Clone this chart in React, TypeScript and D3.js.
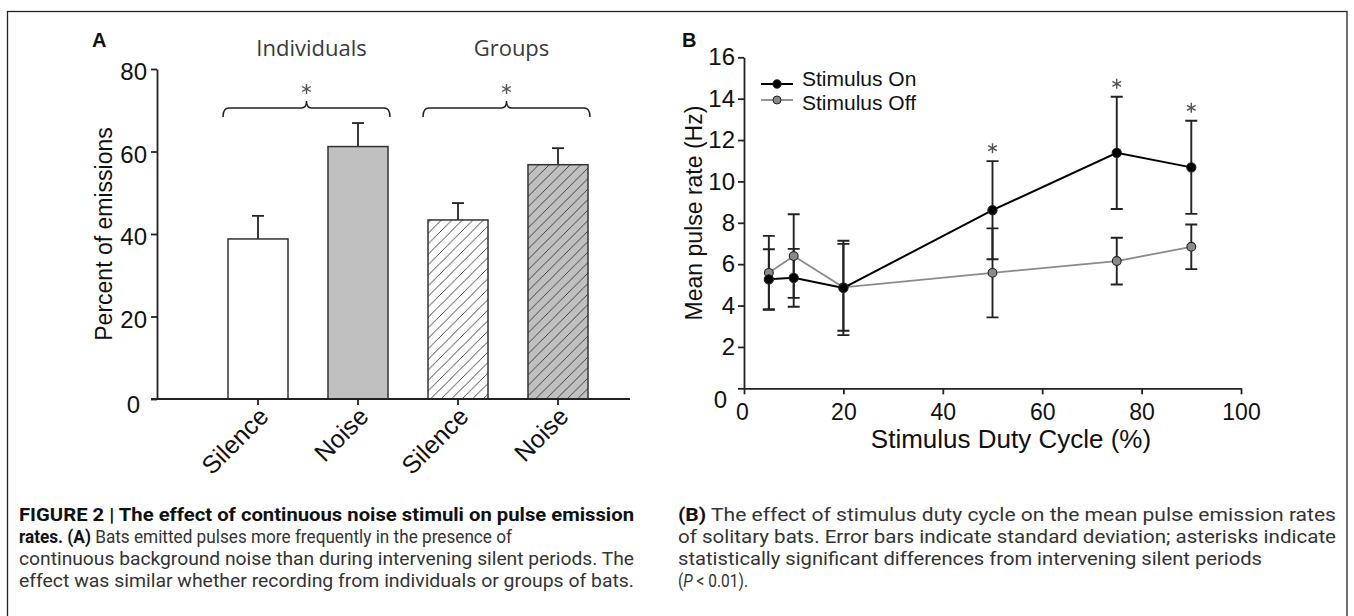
import React, { useEffect, useRef } from 'react';
import * as d3 from 'd3';

// ---------- Panel A data ----------
const groupLabels = ['Individuals', 'Groups'];
const barIds = ['ind-silence', 'ind-noise', 'grp-silence', 'grp-noise'];
const barLabels = ['Silence', 'Noise', 'Silence', 'Noise'];
const barValues = [38.8, 61.2, 43.4, 56.8];
const barErrors = [5.6, 5.7, 4.1, 4.0];
const percentTicks = [0, 20, 40, 60, 80];

// ---------- Panel B data ----------
const dutyCycles = [5, 10, 20, 50, 75, 90];
const onMeans = [5.27, 5.34, 4.85, 8.61, 11.38, 10.68];
const onSD = [1.45, 1.4, 2.28, 2.37, 2.71, 2.25];
const offMeans = [5.58, 6.39, 4.88, 5.58, 6.15, 6.84];
const offSD = [1.79, 2.02, 2.1, 2.15, 1.13, 1.08];
const significant = [false, false, false, true, true, true];
const rateTicks = [0, 2, 4, 6, 8, 10, 12, 14, 16];
const dutyTicks = [0, 20, 40, 60, 80, 100];
const seriesNames = ['Stimulus On', 'Stimulus Off'];

const W = 1354;
const H = 616;
const ARIAL = "'Liberation Sans', Arial, Helvetica, sans-serif";
const CAPFONT = "'Liberation Sans Narrow', 'Arial Narrow', Roboto, sans-serif";

export default function App() {
  const ref = useRef<SVGSVGElement>(null);

  useEffect(() => {
    const svg = d3.select(ref.current);
    svg.selectAll('*').remove();

    // patterns
    const defs = svg.append('defs');
    const mkHatch = (id: string, bg: string) => {
      const p = defs
        .append('pattern')
        .attr('id', id)
        .attr('patternUnits', 'userSpaceOnUse')
        .attr('width', 10.5)
        .attr('height', 10.5);
      p.append('rect').attr('width', 10.5).attr('height', 10.5).attr('fill', bg);
      p.append('path')
        .attr('d', 'M-1,1 L1,-1 M0,10.5 L10.5,0 M9.5,11.5 L11.5,9.5')
        .attr('stroke', '#333')
        .attr('stroke-width', 0.9);
    };
    mkHatch('hatchWhite', '#ffffff');
    mkHatch('hatchGray', '#c0c0c0');
    const barFill = ['#ffffff', '#c0c0c0', 'url(#hatchWhite)', 'url(#hatchGray)'];

    // frame
    svg
      .append('rect')
      .attr('x', 7.5)
      .attr('y', 11.5)
      .attr('width', 1339.5)
      .attr('height', 700)
      .attr('fill', 'none')
      .attr('stroke', '#222')
      .attr('stroke-width', 1.3);

    const drawAst = (g: any, cx: number, cy: number, r: number) => {
      const c = Math.cos(Math.PI / 6) * r;
      const s = Math.sin(Math.PI / 6) * r;
      g.append('path')
        .attr(
          'd',
          `M${cx},${cy - r}L${cx},${cy + r}M${cx - c},${cy - s}L${cx + c},${cy + s}M${cx - c},${cy + s}L${cx + c},${cy - s}`
        )
        .attr('stroke', '#555')
        .attr('stroke-width', 1.4)
        .attr('fill', 'none');
    };

    // ================= Panel A =================
    const gA = svg.append('g');
    const yA = d3.scaleLinear().domain([0, 80]).range([399, 69]);
    const xA = d3.scaleBand<string>().domain(barIds).range([208, 608]).paddingInner(0.4).paddingOuter(0.2);

    gA.append('text')
      .attr('x', 92)
      .attr('y', 47)
      .attr('font-family', ARIAL)
      .attr('font-weight', 'bold')
      .attr('font-size', 20)
      .attr('fill', '#111')
      .text('A');

    // y axis
    const yAxisA = gA
      .append('g')
      .attr('transform', 'translate(157,0)')
      .call(d3.axisLeft(yA).tickValues(percentTicks).tickSize(6).tickSizeOuter(0).tickPadding(4));
    yAxisA.select('.domain').attr('stroke', '#222').attr('stroke-width', 1.8);
    yAxisA.selectAll('.tick line').attr('stroke', '#222').attr('stroke-width', 1.8);
    yAxisA
      .selectAll('.tick text')
      .attr('font-family', ARIAL)
      .attr('font-size', 24)
      .attr('fill', '#111')
      .attr('dy', '0.45em');
    yAxisA
      .selectAll<SVGTextElement, number>('.tick text')
      .filter((d) => d === 0)
      .attr('x', -17)
      .attr('dy', '0.55em');

    gA.append('text')
      .attr('transform', 'translate(112,234) rotate(-90)')
      .attr('text-anchor', 'middle')
      .attr('font-family', ARIAL)
      .attr('font-size', 23)
      .attr('fill', '#111')
      .text('Percent of emissions');

    // bars
    barIds.forEach((id, i) => {
      const x0 = xA(id)!;
      const bw = xA.bandwidth();
      const cx = x0 + bw / 2;
      const top = yA(barValues[i]);
      const errTop = yA(barValues[i] + barErrors[i]);
      gA.append('line')
        .attr('x1', cx)
        .attr('x2', cx)
        .attr('y1', top)
        .attr('y2', errTop)
        .attr('stroke', '#222')
        .attr('stroke-width', 1.8);
      gA.append('line')
        .attr('x1', cx - 6)
        .attr('x2', cx + 6)
        .attr('y1', errTop)
        .attr('y2', errTop)
        .attr('stroke', '#222')
        .attr('stroke-width', 1.8);
      gA.append('rect')
        .attr('x', x0)
        .attr('y', top)
        .attr('width', bw)
        .attr('height', yA(0) - top)
        .attr('fill', barFill[i])
        .attr('stroke', '#333')
        .attr('stroke-width', 1.5);
    });

    // x axis
    gA.append('line')
      .attr('x1', 151)
      .attr('x2', 630)
      .attr('y1', yA(0))
      .attr('y2', yA(0))
      .attr('stroke', '#222')
      .attr('stroke-width', 1.8);
    barIds.forEach((id, i) => {
      const cx = xA(id)! + xA.bandwidth() / 2;
      gA.append('line')
        .attr('x1', cx)
        .attr('x2', cx)
        .attr('y1', yA(0))
        .attr('y2', yA(0) + 6)
        .attr('stroke', '#222')
        .attr('stroke-width', 1.8);
      gA.append('text')
        .attr('transform', `translate(${cx + 12},${yA(0) + 19}) rotate(-45)`)
        .attr('text-anchor', 'end')
        .attr('font-family', ARIAL)
        .attr('font-size', 25)
        .attr('fill', '#111')
        .text(barLabels[i]);
    });

    // group labels + braces
    groupLabels.forEach((lab, gi) => {
      const a = barIds[gi * 2];
      const b = barIds[gi * 2 + 1];
      const x1 = xA(a)! - 5;
      const x2 = xA(b)! + xA.bandwidth() + 2;
      const cx = (x1 + x2) / 2;
      const y = 108;
      gA.append('text')
        .attr('x', cx + 5)
        .attr('y', 56)
        .attr('text-anchor', 'middle')
        .attr('font-family', "'Open Sans', 'Noto Sans', sans-serif")
        .attr('font-size', 22)
        .attr('fill', '#3a3a3a')
        .text(lab);
      gA.append('path')
        .attr(
          'd',
          `M${x1},${y + 9}Q${x1},${y} ${x1 + 6},${y}L${cx - 5},${y}Q${cx},${y} ${cx},${y - 7}Q${cx},${y} ${cx + 5},${y}L${x2 - 6},${y}Q${x2},${y} ${x2},${y + 9}`
        )
        .attr('fill', 'none')
        .attr('stroke', '#222')
        .attr('stroke-width', 1.5);
      drawAst(gA, cx, 89, 5);
    });

    // ================= Panel B =================
    const gB = svg.append('g');
    const xB = d3.scaleLinear().domain([0, 100]).range([744, 1241]);
    const yB = d3.scaleLinear().domain([0, 16]).range([388.3, 57.3]);

    gB.append('text')
      .attr('x', 682)
      .attr('y', 47)
      .attr('font-family', ARIAL)
      .attr('font-weight', 'bold')
      .attr('font-size', 20)
      .attr('fill', '#111')
      .text('B');

    const yAxisB = gB
      .append('g')
      .attr('transform', `translate(${xB(0)},0)`)
      .call(d3.axisLeft(yB).tickValues(rateTicks).tickSize(6).tickSizeOuter(0).tickPadding(3));
    yAxisB.select('.domain').attr('stroke', '#222').attr('stroke-width', 1.8);
    yAxisB.selectAll('.tick line').attr('stroke', '#222').attr('stroke-width', 1.8);
    yAxisB.selectAll('.tick text').attr('font-family', ARIAL).attr('font-size', 24).attr('fill', '#111');
    yAxisB
      .selectAll<SVGTextElement, number>('.tick text')
      .filter((d) => d === 0)
      .attr('x', -17)
      .attr('dy', '0.8em');

    const xAxisB = gB
      .append('g')
      .attr('transform', `translate(0,${yB(0)})`)
      .call(d3.axisBottom(xB).tickValues(dutyTicks).tickSize(6).tickSizeOuter(0).tickPadding(10));
    xAxisB.select('.domain').attr('stroke', '#222').attr('stroke-width', 1.8);
    xAxisB.selectAll('.tick line').attr('stroke', '#222').attr('stroke-width', 1.8);
    xAxisB
      .selectAll('.tick text')
      .attr('font-family', ARIAL)
      .attr('font-size', 23)
      .attr('fill', '#111')
      .attr('dy', '0.68em');
    xAxisB
      .selectAll<SVGTextElement, number>('.tick text')
      .filter((d) => d === 0)
      .attr('x', -2);

    gB.append('text')
      .attr('x', 1011)
      .attr('y', 448)
      .attr('text-anchor', 'middle')
      .attr('font-family', ARIAL)
      .attr('font-size', 26)
      .attr('fill', '#111')
      .text('Stimulus Duty Cycle (%)');

    gB.append('text')
      .attr('transform', 'translate(702,213) rotate(-90)')
      .attr('text-anchor', 'middle')
      .attr('font-family', ARIAL)
      .attr('font-size', 23)
      .attr('fill', '#111')
      .text('Mean pulse rate (Hz)');

    const series = [
      { means: onMeans, sd: onSD, line: '#000', lw: 2, fill: '#000', r: 4.6 },
      { means: offMeans, sd: offSD, line: '#8a8a8a', lw: 1.8, fill: '#8a8a8a', r: 4.4 },
    ];

    // error bars
    series.forEach((s) => {
      dutyCycles.forEach((dc, i) => {
        const cx = xB(dc);
        const hi = yB(s.means[i] + s.sd[i]);
        const lo = yB(s.means[i] - s.sd[i]);
        gB.append('path')
          .attr('d', `M${cx},${hi}L${cx},${lo}M${cx - 6},${hi}L${cx + 6},${hi}M${cx - 6},${lo}L${cx + 6},${lo}`)
          .attr('stroke', '#222')
          .attr('stroke-width', 1.9)
          .attr('fill', 'none');
      });
    });

    // lines (off first, then on)
    [1, 0].forEach((si) => {
      const s = series[si];
      const lineGen = d3
        .line<number>()
        .x((_, i) => xB(dutyCycles[i]))
        .y((d) => yB(d));
      gB.append('path')
        .attr('d', lineGen(s.means)!)
        .attr('fill', 'none')
        .attr('stroke', s.line)
        .attr('stroke-width', s.lw);
    });
    [1, 0].forEach((si) => {
      const s = series[si];
      s.means.forEach((m, i) => {
        gB.append('circle')
          .attr('cx', xB(dutyCycles[i]))
          .attr('cy', yB(m))
          .attr('r', s.r)
          .attr('fill', s.fill)
          .attr('stroke', '#222')
          .attr('stroke-width', 1.1);
      });
    });

    // significance asterisks
    dutyCycles.forEach((dc, i) => {
      if (!significant[i]) return;
      drawAst(gB, xB(dc), yB(onMeans[i] + onSD[i]) - 13, 5);
    });

    // legend
    seriesNames.forEach((name, i) => {
      const s = series[i];
      const y = 84 + i * 16;
      gB.append('line')
        .attr('x1', 761)
        .attr('x2', 793)
        .attr('y1', y)
        .attr('y2', y)
        .attr('stroke', s.line)
        .attr('stroke-width', s.lw);
      gB.append('circle')
        .attr('cx', 777)
        .attr('cy', y)
        .attr('r', s.r - 0.4)
        .attr('fill', s.fill)
        .attr('stroke', '#222')
        .attr('stroke-width', 1);
      gB.append('text')
        .attr('x', 802)
        .attr('y', 86 + i * 24)
        .attr('font-family', ARIAL)
        .attr('font-size', 21)
        .attr('fill', '#111')
        .text(name);
    });

    // ================= Caption =================
    type Seg = { t: string; b?: boolean; i?: boolean };
    const capLines: { x: number; y: number; len?: number; segs: Seg[] }[] = [
      { x: 19, y: 521, len: 615, segs: [{ t: 'FIGURE 2 | The effect of continuous noise stimuli on pulse emission', b: true }] },
      { x: 19, y: 543, len: 493, segs: [{ t: 'rates. (A)', b: true }, { t: ' Bats emitted pulses more frequently in the presence of' }] },
      { x: 19, y: 565, len: 615, segs: [{ t: 'continuous background noise than during intervening silent periods. The' }] },
      { x: 19, y: 587, len: 615, segs: [{ t: 'effect was similar whether recording from individuals or groups of bats.' }] },
      { x: 678, y: 521, len: 658, segs: [{ t: '(B)', b: true }, { t: ' The effect of stimulus duty cycle on the mean pulse emission rates' }] },
      { x: 678, y: 543, len: 658, segs: [{ t: 'of solitary bats. Error bars indicate standard deviation; asterisks indicate' }] },
      { x: 678, y: 565, len: 584, segs: [{ t: 'statistically significant differences from intervening silent periods' }] },
      { x: 678, y: 587, len: 70, segs: [{ t: '(' }, { t: 'P', i: true }, { t: ' < 0.01).' }] },
    ];
    capLines.forEach((ln) => {
      const t = svg
        .append('text')
        .attr('x', ln.x)
        .attr('y', ln.y)
        .attr('font-family', CAPFONT)
        .attr('font-size', 19)
        .attr('fill', '#333')
        .attr('xml:space', 'preserve')
        .style('white-space', 'pre');
      if (ln.len) t.attr('textLength', ln.len).attr('lengthAdjust', 'spacingAndGlyphs');
      ln.segs.forEach((s) => {
        const ts = t.append('tspan').text(s.t);
        if (s.b) ts.attr('font-weight', 'bold').attr('fill', '#111');
        if (s.i) ts.attr('font-style', 'italic');
      });
    });
  }, []);

  return (
    <svg
      ref={ref}
      width={W}
      height={H}
      style={{ position: 'absolute', left: 0, top: 0, background: '#fff' }}
    />
  );
}
